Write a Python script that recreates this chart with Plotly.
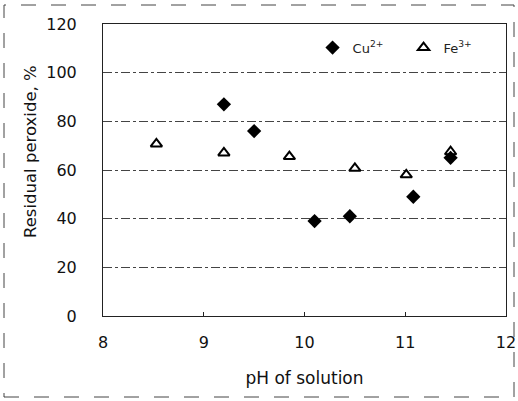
import plotly.graph_objects as go

cu_ph = [9.2, 9.5, 10.1, 10.45, 11.08, 11.45]
cu_res = [87, 76, 39, 41, 49, 65]
fe_ph = [8.53, 9.2, 9.85, 10.5, 11.01, 11.45]
fe_res = [70.7, 67, 65.5, 60.7, 58, 67.5]

x_ticks = [8, 9, 10, 11, 12]
y_ticks = [0, 20, 40, 60, 80, 100, 120]

fig = go.Figure()
fig.add_trace(go.Scatter(x=cu_ph, y=cu_res, mode="markers", name="Cu<sup>2+</sup>",
                         marker=dict(symbol="diamond", size=11, color="black")))
fig.add_trace(go.Scatter(x=fe_ph, y=fe_res, mode="markers", name="Fe<sup>3+</sup>",
                         marker=dict(symbol="triangle-up-open", size=10, color="black",
                                     line=dict(width=2, color="black"))))

font = "DejaVu Sans, sans-serif"
fig.update_layout(
    width=518, height=401,
    margin=dict(l=103, r=12, t=24, b=85, autoexpand=False),
    paper_bgcolor="white", plot_bgcolor="white",
    font=dict(family=font, size=15, color="#111"),
    showlegend=True,
    legend=dict(orientation="h", x=0.52, y=0.919, xanchor="left", yanchor="middle",
                bgcolor="rgba(0,0,0,0)", font=dict(size=13, color="#222"),
                itemwidth=30, entrywidth=46, entrywidthmode="pixels", tracegroupgap=0),
    xaxis=dict(range=[8, 12], tickvals=x_ticks, showgrid=False, zeroline=False,
               showline=True, linecolor="#222", linewidth=1, mirror=True,
               ticks="inside", ticklen=4, tickcolor="#222", automargin=False,
               ticklabelstandoff=12,
               tickfont=dict(size=16), title=dict(text="pH of solution", font=dict(size=17), standoff=20)),
    yaxis=dict(range=[0, 120], tickvals=y_ticks, showgrid=True, gridcolor="#444",
               griddash="dashdot", gridwidth=1, zeroline=False,
               showline=True, linecolor="#222", linewidth=1, mirror=True,
               ticks="", tickfont=dict(size=16), automargin=False, ticklabelstandoff=22),
    annotations=[dict(text="Residual peroxide, %", textangle=-90, xref="paper", yref="paper",
                      x=(30 - 103) / 403, y=(316 - 152) / 292, xanchor="center", yanchor="middle",
                      showarrow=False, font=dict(size=16.5, color="#111"))],
    shapes=[dict(type="rect", xref="paper", yref="paper",
                 x0=(4 - 103) / 403, x1=(514 - 103) / 403,
                 y0=(316 - 397) / 292, y1=(316 - 5) / 292,
                 line=dict(color="#444", width=1, dash="longdash"), layer="below")],
)

fig.write_html("out.html")
